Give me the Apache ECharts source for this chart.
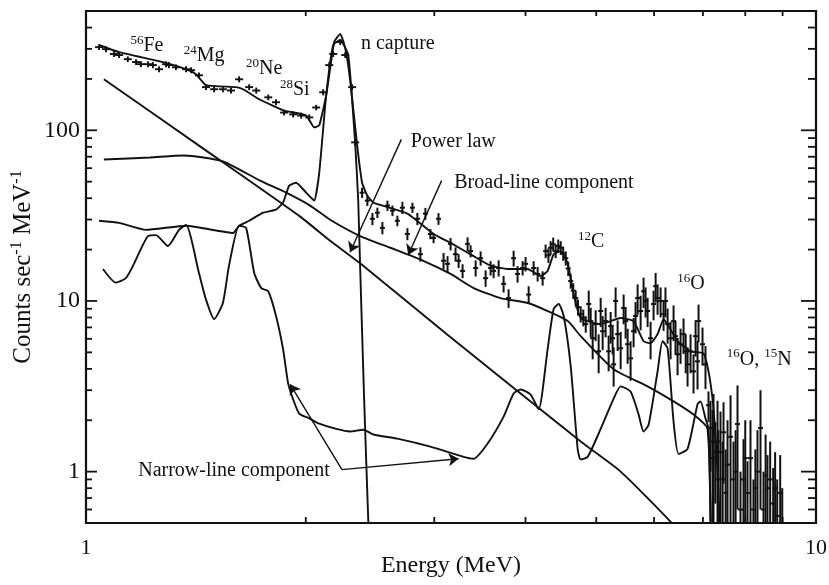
<!DOCTYPE html>
<html><head><meta charset="utf-8">
<script src="https://cdn.jsdelivr.net/npm/echarts@6/dist/echarts.min.js"></script>
<style>html,body{margin:0;padding:0;background:#fff}#chart{width:829px;height:585px}</style>
</head><body><div id="chart"></div>
<script>
// ---- axis ranges & ticks ----
const xMin = 1, xMax = 10, yMin = 0.5, yMax = 500;
const yLabelValues = [1, 10, 100];
const xLabelValues = [1, 10];
const yMajorTicks = [1, 10, 100];
const yMinorTicks = [0.6,0.7,0.8,0.9,2,3,4,5,6,7,8,9,20,30,40,50,60,70,80,90,200,300,400];
const xMinorTicks = [2,3,4,5,6,7,8,9];

// ---- low-energy data points (+ markers) ----
const crossE = [1.042,1.065,1.092,1.110,1.141,1.171,1.189,1.216,1.235,1.259,1.287,1.299,1.328,1.371,1.393,1.428,1.460,1.498,1.540,1.580,1.621,1.673,1.711,1.777,1.821,1.868,1.922,1.971,2.022,2.067,2.113,2.154,2.181,2.230,2.265,2.315,2.337];
const crossC = [307,299,280,276,261,251,244,244,241,228,244,241,234,228,225,210,179,174,174,171,199,179,171,156,146,127,124,122,119,136,167,241,280,329,276,179,85];
const crossErr = [12,12,11,11,10,10,10,10,10,9,10,10,9,9,9,8,7,7,7,7,8,7,7,6,6,5,5,5,5,5,7,10,11,13,11,7,4];

// ---- binned data (vertical error bars) ----
const binE = [2.389,2.429,2.468,2.507,2.547,2.588,2.629,2.670,2.713,2.756,2.800,2.844,2.871,2.917,2.963,2.993,3.040,3.089,3.128,3.158,3.208,3.239,3.280,3.332,3.364,3.418,3.472,3.527,3.583,3.617,3.675,3.733,3.792,3.853,3.901,3.964,4.001,4.040,4.104,4.156,4.222,4.262,4.300,4.330,4.365,4.399,4.435,4.470,4.505,4.541,4.577,4.613,4.650,4.686,4.720,4.761,4.800,4.837,4.883,4.913,4.944,4.991,5.038,5.070,5.102,5.150,5.199,5.232,5.265,5.282,5.315,5.349,5.400,5.451,5.485,5.520,5.572,5.625,5.660,5.697,5.751,5.805,5.842,5.879,5.935,5.991,6.030,6.067,6.125,6.183,6.220,6.262,6.321,6.381,6.420,6.462,6.523,6.585,6.630,6.669,6.732,6.796,6.840,6.882,6.904,6.991,7.057,7.124,7.170,7.215,7.238,7.280,7.330,7.350,7.399,7.450,7.470,7.520,7.565,7.637,7.709,7.760,7.807,7.881,7.956,8.000,8.057,8.133,8.210,8.260,8.315,8.394,8.474,8.530,8.581,8.654,8.737,8.790,8.848,8.932,8.990];
const binC = [43.1,38.7,30.3,32.9,26.8,36.2,33.8,29.5,35.2,24.7,35.2,30.3,18.8,32.5,24.7,23.4,30.3,17.2,16.5,21.6,18.8,17.2,15.0,21.6,19.6,15.6,17.8,13.6,15.6,15.0,15.6,12.6,10.4,17.8,14.4,15.6,16.5,10.9,15.6,14.4,13.6,19.6,18.5,20.5,21.5,19.6,21.0,20.5,19.0,17.8,15.5,13.1,11.5,10.4,9.2,8.38,8.0,7.32,9.6,7.62,6.05,7.32,5.07,8.73,6.65,7.62,5.07,7.12,6.05,4.25,10.0,6.39,5.28,9.10,7.62,5.58,4.61,6.65,8.16,10.4,8.73,11.4,10.0,8.73,6.05,9.6,12.2,10.4,10.0,8.38,10.0,7.32,6.05,7.62,6.22,4.87,5.58,6.39,5.07,4.25,5.07,3.87,6.22,4.43,7.62,5.58,4.25,2.45,1.8,1.2,1.5,1.3,1.5,0.9,1.3,0.9,1.7,0.75,1.1,1.6,0.9,1.0,1.9,0.6,0.9,1.2,0.75,1.2,0.6,0.8,1.0,1.8,0.6,0.95,0.8,0.9,0.65,0.8,0.55,0.75,0.5];
const binErr = [3.0,2.7,2.5,2.3,2.2,2.5,2.4,2.1,2.9,2.0,2.4,2.5,1.8,2.6,1.7,1.6,2.4,1.9,1.8,1.8,1.8,1.6,1.4,2.0,1.6,1.7,1.7,1.5,1.5,1.4,1.7,1.4,1.3,1.9,1.6,1.5,1.6,1.3,1.5,1.4,1.3,1.8,1.8,1.9,2.0,1.8,1.9,1.9,1.8,1.7,1.5,1.3,1.2,1.1,1.0,0.9,0.9,0.8,1.9,1.5,1.5,1.5,1.3,1.7,1.5,1.5,1.2,1.5,1.2,1.1,2.0,1.3,1.3,1.8,1.6,1.3,1.2,1.3,1.7,2.1,2.0,2.3,2.0,1.7,1.5,1.9,2.4,2.1,2.0,1.7,2.0,1.7,1.5,1.8,1.4,1.2,1.3,1.5,1.3,1.1,1.3,1.0,1.5,1.4,1.9,1.4,1.2,0.5,0.8,1.1,1.35,0.65,1.1,0.85,0.95,0.6,0.85,0.6,0.9,1.2,0.6,0.75,1.3,0.4,0.65,0.8,0.4,0.8,0.3,0.55,0.75,1.2,0.4,0.7,0.45,0.6,0.4,0.5,0.35,0.5,0.3];

// ---- model curves ----
const modelE = [1.042,1.110,1.275,1.371,1.415,1.460,1.605,1.641,1.727,1.862,2.003,2.054,2.087,2.133,2.188,2.230,2.265,2.300,2.352,2.389,2.429,2.476,2.756,2.993,3.158,3.396,3.583,3.780,4.027,4.195,4.289,4.371,4.470,4.570,4.657,4.761,5.070,5.400,5.625,5.805,5.935,6.067,6.183,6.282,6.462,6.732,7.013,7.124,7.215,7.260,7.330,7.400];
const modelC = [316,287,251,228,213,184,179,174,152,131,122,104,107,160,329,367,303,199,81.6,49.3,41.4,37.7,32.5,24.7,21.9,18.3,16.1,15.4,15.4,14.0,15.0,18.8,19.6,16.5,10.9,7.94,7.32,7.94,7.62,5.81,5.65,6.39,7.83,7.12,5.81,5.07,4.93,3.87,2.68,1.96,1.0,0.38];

const captureE = [1.042,1.110,1.208,1.371,1.521,1.590,1.621,1.673,1.749,1.821,1.862,1.898,1.940,2.003,2.054,2.087,2.133,2.181,2.230,2.287,2.337,2.360,2.374,2.405,2.437,2.445];
const captureC = [29.5,28.7,26.1,27.6,25.7,25.0,27.6,29.5,32.9,34.3,37.7,47.4,49.3,43.1,38.7,56.5,160,316,338,276,85,38.7,16.1,2.58,0.49,0.35];

const narrowE = [1.055,1.099,1.134,1.160,1.216,1.247,1.295,1.341,1.371,1.428,1.460,1.498,1.540,1.570,1.621,1.657,1.700,1.738,1.777,1.821,1.862,1.892,1.922,1.959,2.022,2.087,2.202,2.300,2.397,2.476,2.670,2.963,3.290,3.396,3.549,3.733,3.853,3.939,4.065,4.169,4.289,4.371,4.441,4.512,4.613,4.716,4.761,4.867,5.070,5.282,5.400,5.572,5.715,5.805,5.898,6.067,6.163,6.262,6.381,6.482,6.669,6.882,6.947,7.057,7.124,7.190];
const narrowC = [15.4,12.8,13.6,16.1,24.0,24.3,21.0,26.1,27.9,14.6,10.2,7.83,9.73,16.1,27.6,26.8,14.6,11.9,11.4,8.16,5.21,3.29,2.65,2.19,2.05,1.91,1.78,1.72,1.76,1.65,1.56,1.40,1.22,1.19,1.46,2.10,2.87,3.03,2.83,2.32,5.21,8.97,9.60,8.16,4.14,1.35,1.18,1.22,1.78,2.68,3.16,2.95,2.16,1.72,1.88,3.87,5.81,5.28,1.96,1.27,1.36,2.48,2.58,2.05,1.78,0.3];

const broadE = [1.058,1.224,1.358,1.479,1.555,1.732,1.880,2.028,2.160,2.374,2.612,2.898,3.158,3.396,3.698,4.027,4.289,4.570,4.761,5.282,5.879,6.381,6.796,7.102,7.170];
const broadC = [67.4,69.3,71.2,68.4,64.7,50.7,43.1,36.2,29.9,24.0,20.5,17.2,14.4,11.9,10.4,9.73,8.73,7.62,6.22,3.98,3.16,2.58,2.16,1.78,0.3];

const powerE = [1.058,1.433,1.965,2.160,2.397,3.158,4.761,5.400,6.381,6.600];
const powerC = [199,80.5,31.2,22.5,16.1,6.13,1.50,1.00,0.487,0.40];

// ---- annotations ----
const labelTexts = ['{s|56}{m|Fe}','{s|24}{m|Mg}','{s|20}{m|Ne}','{s|28}{m|Si}','{m|n capture}','{m|Power law}','{m|Broad-line component}','{s|12}{m|C}','{s|16}{m|O}','{s|16}{m|O, }{s|15}{m|N}','{m|Narrow-line component}'];
const labelE = [1.212,1.451,1.754,1.932,2.674,3.185,4.24,4.92,6.74,8.36,1.595];
const labelC = [316,276,231,174,325,87.3,50.0,22.5,12.75,4.61,1.03];
const arrowFromE = [2.704,3.07,2.242,2.242];
const arrowFromC = [88.5,50.7,1.027,1.027];
const arrowToE = [2.300,2.763,1.904,3.239];
const arrowToC = [19.3,18.6,3.25,1.19];

// ---- build chart ----
const INK = '#111';
const FONT = 'Liberation Serif';
const chart = echarts.init(document.getElementById('chart'), null, {renderer: 'canvas'});

function isDecade(v, list) {
  return list.some(t => Math.abs(Math.log10(v) - Math.log10(t)) < 1e-6);
}
function lineSeries(name, E, C, smooth) {
  return {
    type: 'line', name, data: E.map((e, i) => [e, C[i]]),
    showSymbol: false, symbol: 'none', smooth, clip: true,
    lineStyle: {color: INK, width: 1.9}, silent: true, animation: false, z: 3
  };
}
function errRender(arm, lw) {
  return function (params, api) {
    const cs = params.coordSys;
    const bottom = cs.y + cs.height, top = cs.y;
    const e = api.value(0), c = api.value(1), er = api.value(2);
    const pc = api.coord([e, c]);
    const yt = Math.max(api.coord([e, c + er])[1], top);
    const lo = c - er;
    let yb = lo > 0 ? api.coord([e, lo])[1] : bottom;
    yb = Math.min(yb, bottom);
    const children = [{type: 'line', shape: {x1: pc[0], y1: yt, x2: pc[0], y2: yb}, style: {stroke: INK, lineWidth: lw}}];
    if (pc[1] < bottom) {
      children.push({type: 'line', shape: {x1: pc[0] - arm, y1: pc[1], x2: pc[0] + arm, y2: pc[1]}, style: {stroke: INK, lineWidth: lw}});
    }
    return {type: 'group', children};
  };
}

const tickData = [];
yMajorTicks.forEach(v => { tickData.push([xMin, v, 11, 0]); tickData.push([xMax, v, 15, 1]); });
yMinorTicks.forEach(v => { tickData.push([xMin, v, 6, 0]); tickData.push([xMax, v, 8, 1]); });
xMinorTicks.forEach(v => { tickData.push([v, yMin, 6, 2]); tickData.push([v, yMax, 5, 3]); });

const richStyle = {
  m: {fontFamily: FONT, fontSize: 20, color: INK, verticalAlign: 'bottom', lineHeight: 22},
  s: {fontFamily: FONT, fontSize: 13, color: INK, verticalAlign: 'top', lineHeight: 14}
};

const option = {
  backgroundColor: '#fff',
  animation: false,
  textStyle: {fontFamily: FONT, color: INK},
  grid: {left: 86, right: 13, top: 11, bottom: 62, containLabel: false, outerBoundsMode: 'none',
         show: true, borderColor: INK, borderWidth: 2.2, backgroundColor: 'transparent'},
  xAxis: {
    type: 'log', logBase: 10, min: xMin, max: xMax,
    axisLine: {show: false}, axisTick: {show: false}, splitLine: {show: false},
    axisLabel: {
      color: INK, fontFamily: FONT, fontSize: 22, margin: 14,
      formatter: v => isDecade(v, xLabelValues) ? String(Math.round(v)) : ''
    },
    name: 'Energy (MeV)', nameLocation: 'middle', nameGap: 31, nameMoveOverlap: false,
    nameTextStyle: {color: INK, fontFamily: FONT, fontSize: 24}
  },
  yAxis: {
    type: 'log', logBase: 10, min: yMin, max: yMax,
    axisLine: {show: false}, axisTick: {show: false}, splitLine: {show: false},
    axisLabel: {
      color: INK, fontFamily: FONT, fontSize: 24, margin: 6,
      showMinLabel: false, showMaxLabel: false,
      formatter: v => isDecade(v, yLabelValues) ? String(Math.round(v)) : ''
    },
    name: '{m|Counts sec}{s|-1}{m| MeV}{s|-1}', nameLocation: 'middle', nameGap: 50, nameMoveOverlap: false,
    nameTextStyle: {
      color: INK, fontFamily: FONT, fontSize: 25,
      rich: {
        m: {fontFamily: FONT, fontSize: 25, color: INK, verticalAlign: 'bottom', lineHeight: 27},
        s: {fontFamily: FONT, fontSize: 16, color: INK, verticalAlign: 'top', lineHeight: 17}
      }
    }
  },
  series: [
    {
      type: 'custom', name: 'ticks', data: tickData, silent: true, animation: false, z: 5,
      renderItem: (params, api) => {
        const p = api.coord([api.value(0), api.value(1)]);
        const len = api.value(2), k = api.value(3);
        let x2 = p[0], y2 = p[1];
        if (k === 0) x2 += len; else if (k === 1) x2 -= len; else if (k === 2) y2 -= len; else y2 += len;
        return {type: 'line', shape: {x1: p[0], y1: p[1], x2, y2}, style: {stroke: INK, lineWidth: 1.8}};
      }
    },
    lineSeries('Power law', powerE, powerC, 0.2),
    lineSeries('Broad-line component', broadE, broadC, 0.2),
    lineSeries('Narrow-line component', narrowE, narrowC, 0.2),
    lineSeries('Narrow + n capture', captureE, captureC, 0.15),
    lineSeries('Total model', modelE, modelC, 0.15),
    {
      type: 'custom', name: 'data (+)', silent: true, animation: false, z: 4,
      data: crossE.map((e, i) => [e, crossC[i], crossErr[i]]),
      renderItem: errRender(4, 1.9)
    },
    {
      type: 'custom', name: 'data', silent: true, animation: false, z: 4,
      data: binE.map((e, i) => [e, binC[i], binErr[i]]),
      renderItem: errRender(2.5, 2.0)
    },
    {
      type: 'line', name: 'annotations', data: [], silent: true, animation: false, z: 6,
      markLine: {
        silent: true, animation: false,
        symbol: ['none', 'arrow'], symbolSize: 10,
        itemStyle: {color: INK},
        lineStyle: {color: INK, width: 1.4, type: 'solid'},
        label: {show: false},
        data: arrowFromE.map((e, i) => [{coord: [e, arrowFromC[i]]}, {coord: [arrowToE[i], arrowToC[i]]}])
      },
      markPoint: {
        silent: true, animation: false,
        symbol: 'circle', symbolSize: 1, itemStyle: {color: 'rgba(0,0,0,0)'},
        data: labelE.map((e, i) => ({
          coord: [e, labelC[i]],
          label: {show: true, position: 'inside', formatter: labelTexts[i], rich: richStyle}
        }))
      }
    }
  ]
};
chart.setOption(option);
</script>
</body></html>
